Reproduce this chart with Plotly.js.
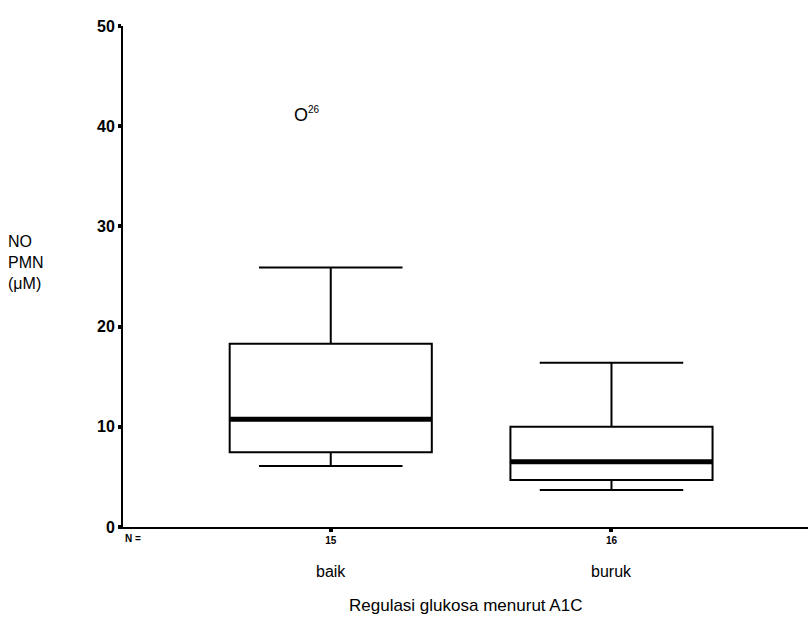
<!DOCTYPE html>
<html>
<head>
<meta charset="utf-8">
<script src="https://cdn.plot.ly/plotly-3.0.1.min.js"></script>
<style>html,body{margin:0;padding:0;background:#fff;}#chart{width:808px;height:619px;}</style>
</head>
<body>
<div id="chart"></div>
<script>
const categories = ["baik", "buruk"];
const nCounts = ["15", "16"];
const lowerWhisker = [6.1, 3.7];
const q1 = [7.45, 4.7];
const median = [10.75, 6.5];
const q3 = [18.3, 10.0];
const upperWhisker = [25.9, 16.4];
const outlierCategory = ["baik"];
const outlierValue = [41.1];
const outlierLabel = ["26"];

const boxW = 0.72;
const font = "Liberation Sans, Arial, sans-serif";
const traces = [];
categories.forEach((c, i) => {
  traces.push({
    type: "box", x: [i], q1: [q1[i]], median: [median[i]], q3: [q3[i]],
    lowerfence: [lowerWhisker[i]], upperfence: [upperWhisker[i]],
    width: boxW, whiskerwidth: 0.71, fillcolor: "rgba(0,0,0,0)",
    line: {color: "#000", width: 2}, boxpoints: false, hoverinfo: "skip", showlegend: false
  });
  traces.push({
    type: "scatter", mode: "lines", x: [i - boxW/2, i + boxW/2], y: [median[i], median[i]],
    line: {color: "#000", width: 5}, hoverinfo: "skip", showlegend: false
  });
});

const annotations = [];
categories.forEach((c, i) => {
  annotations.push({x: i, y: 0, xref: "x", yref: "y", yshift: -44, text: c, showarrow: false,
    font: {family: font, size: 16, color: "#000"}});
});
annotations.push({x: -0.74, y: 0, xref: "x", yref: "y", yshift: -11, xshift: 0, xanchor: "left", text: "<b>N =</b>", showarrow: false,
  font: {family: font, size: 10, color: "#000"}});
annotations.push({x: -0.171, y: 0.528, xref: "paper", yref: "paper", xanchor: "left", yanchor: "middle", align: "left",
  text: "NO<br>PMN<br>(μM)", showarrow: false, font: {family: font, size: 16, color: "#000"}});
annotations.push({x: 0.5, y: 0, xref: "paper", yref: "paper", yshift: -78, yanchor: "middle",
  text: "Regulasi glukosa menurut A1C", showarrow: false, font: {family: font, size: 17, color: "#000"}});
outlierCategory.forEach((c, k) => {
  const i = categories.indexOf(c);
  annotations.push({x: i, y: outlierValue[k], xref: "x", yref: "y", xshift: -30, text: "O", showarrow: false,
    font: {family: font, size: 18, color: "#000"}});
  annotations.push({x: i, y: outlierValue[k], xref: "x", yref: "y", xshift: -17, yshift: 6, text: outlierLabel[k], showarrow: false,
    font: {family: font, size: 10, color: "#000"}});
});

const layout = {
  width: 808, height: 619,
  margin: {l: 123, r: 0, t: 26, b: 92},
  paper_bgcolor: "#fff", plot_bgcolor: "#fff",
  showlegend: false,
  xaxis: {
    range: [-0.74, 1.70], tickvals: categories.map((c, i) => i), ticktext: nCounts.map(s => "<b>" + s + "</b>"),
    showgrid: false, zeroline: false, showline: true, linecolor: "#000", linewidth: 2,
    ticks: "outside", ticklen: 3, tickwidth: 4, tickcolor: "#000",
    tickfont: {family: font, size: 10, color: "#000"}
  },
  yaxis: {
    range: [0, 50], tickvals: [0, 10, 20, 30, 40, 50], ticktext: ["0","10","20","30","40","50"].map(s => "<b>" + s + "</b>"),
    showgrid: false, zeroline: false, showline: true, linecolor: "#000", linewidth: 2,
    ticks: "outside", ticklen: 3, tickwidth: 4, tickcolor: "#000",
    tickfont: {family: font, size: 16, color: "#000"}
  },
  annotations: annotations
};
Plotly.newPlot("chart", traces, layout, {displayModeBar: false, staticPlot: true});
</script>
</body>
</html>
